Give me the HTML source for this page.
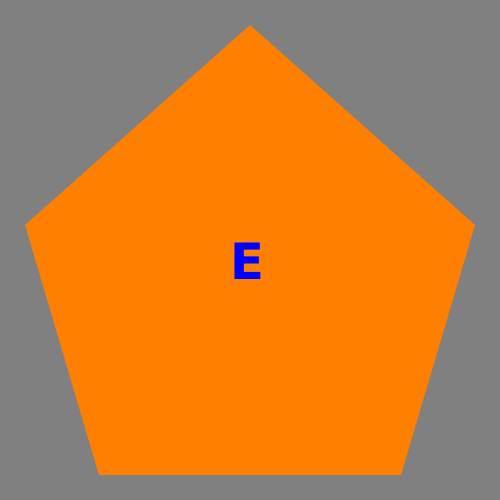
<!DOCTYPE html>
<html>
<head>
<meta charset="utf-8">
<style>
  html, body { margin: 0; padding: 0; background: #808080; }
  svg { display: block; }
</style>
</head>
<body>
<svg width="500" height="500" viewBox="0 0 500 500">
  <rect x="0" y="0" width="500" height="500" fill="#808080"/>
  <polygon points="250,25 475,225 401,475 99,475 25,225" fill="#ff8000"/>
  <text x="247" y="262" text-anchor="middle" dominant-baseline="central" font-family="'DejaVu Sans', 'Liberation Sans', sans-serif" font-weight="bold" font-size="50" fill="#0000ff">E</text>
</svg>
</body>
</html>
